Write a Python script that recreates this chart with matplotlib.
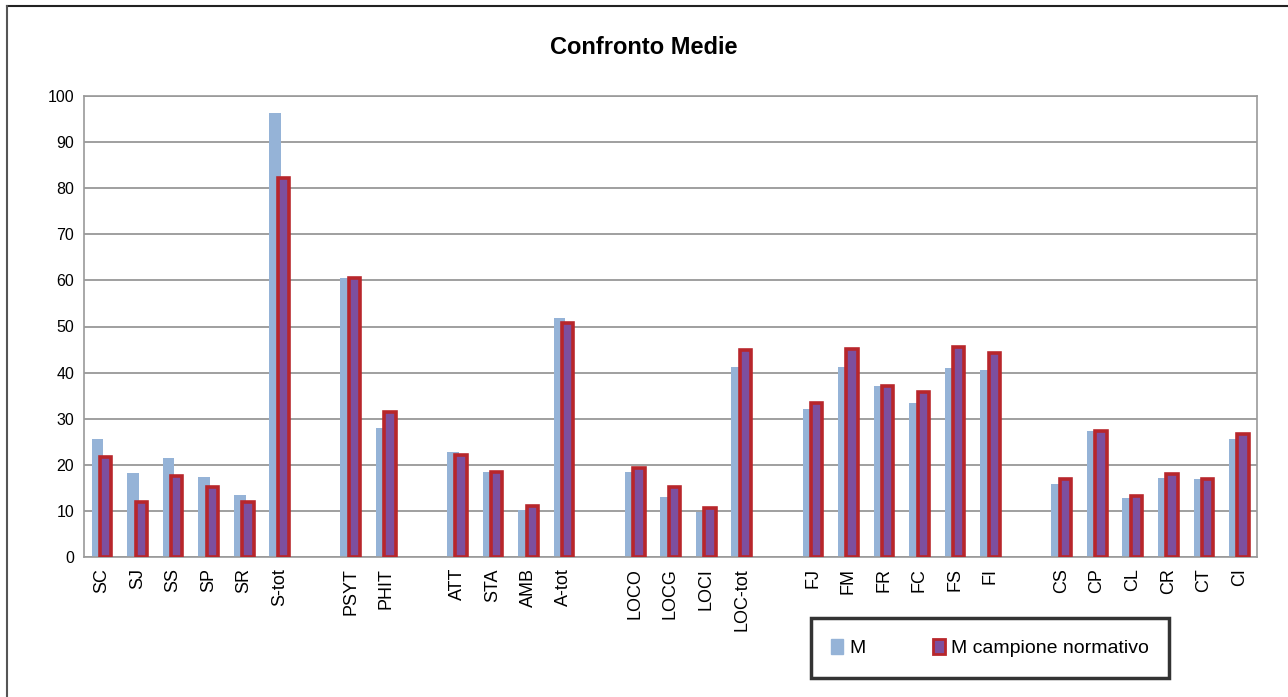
import matplotlib
matplotlib.use("Agg")
import matplotlib.pyplot as plt
from matplotlib.lines import Line2D
from matplotlib.patches import Patch
import numpy as np

plt.rcParams["font.family"] = ["Liberation Sans", "DejaVu Sans"]

# "" marks the empty slots that separate the groups
labels = ["SC", "SJ", "SS", "SP", "SR", "S-tot", "",
          "PSYT", "PHIT", "",
          "ATT", "STA", "AMB", "A-tot", "",
          "LOCO", "LOCG", "LOCI", "LOC-tot", "",
          "FJ", "FM", "FR", "FC", "FS", "FI", "",
          "CS", "CP", "CL", "CR", "CT", "CI"]
m = [25.7, 18.2, 21.5, 17.4, 13.4, 96.4, None,
     60.6, 28.0, None,
     22.8, 18.4, 10.3, 51.8, None,
     18.4, 13.0, 9.8, 41.2, None,
     32.2, 41.2, 37.0, 33.3, 40.9, 40.6, None,
     15.9, 27.3, 12.7, 17.2, 16.9, 25.7]
m_norm = [21.7, 11.9, 17.5, 15.2, 11.9, 82.3, None,
          60.6, 31.5, None,
          22.1, 18.4, 11.0, 50.8, None,
          19.4, 15.2, 10.6, 45.0, None,
          33.4, 45.2, 37.2, 35.7, 45.6, 44.3, None,
          16.9, 27.3, 13.2, 17.9, 16.9, 26.6]

blue = "#95B3D7"
purple = "#7D4F9E"
red = "#B8262B"

fig = plt.figure(figsize=(12.88, 6.97), dpi=100)
ax = fig.add_axes([84 / 1288, 1 - 557 / 697, (1257 - 84) / 1288, (557 - 96) / 697])

x = np.arange(len(labels))
idx = [i for i, v in enumerate(m) if v is not None]
ax.bar(x[idx] - 0.12, [m[i] for i in idx], width=0.33, color=blue, zorder=2)
ax.bar(x[idx] + 0.11, [m_norm[i] for i in idx], width=0.32, color=purple,
       edgecolor=red, linewidth=2.6, zorder=3)

ax.set_xlim(-0.5, len(labels) - 0.5)
ax.set_ylim(0, 100)
ax.set_yticks(range(0, 101, 10))
ax.tick_params(axis="y", labelsize=11.5, length=0, pad=7)
ax.set_xticks(x)
ax.set_xticklabels(labels, rotation=90, fontsize=13)
ax.tick_params(axis="x", length=0, pad=8)
ax.yaxis.grid(True, color="#8f8f8f", linewidth=1.2, zorder=0)
ax.set_axisbelow(True)
for s in ax.spines.values():
    s.set_color("#9a9a9a")
    s.set_linewidth(1.2)

fig.text(0.5, 1 - 48 / 697, "Confronto Medie", ha="center", va="center",
         fontsize=17, fontweight="bold")

handles = [Patch(facecolor=blue, edgecolor=blue),
           Patch(facecolor=purple, edgecolor=red, linewidth=2)]
leg = fig.legend(handles, ["M", "M campione normativo"], loc="center",
                 bbox_to_anchor=(990 / 1288, 1 - 648 / 697), ncol=2, fontsize=14,
                 frameon=True, fancybox=False, handlelength=0.6, handleheight=0.8,
                 handletextpad=0.3, columnspacing=3.5, borderpad=1.05,
                 borderaxespad=0)
leg.get_frame().set_edgecolor("black")
leg.get_frame().set_linewidth(2.5)

# outer frame: top and left edge only
fig.add_artist(Line2D([7 / 1288, 1], [1 - 6 / 697, 1 - 6 / 697], color="#222222", linewidth=1.5))
fig.add_artist(Line2D([7 / 1288, 7 / 1288], [0, 1 - 6 / 697], color="#555555", linewidth=1.5))

fig.savefig("out.png", dpi=100)
